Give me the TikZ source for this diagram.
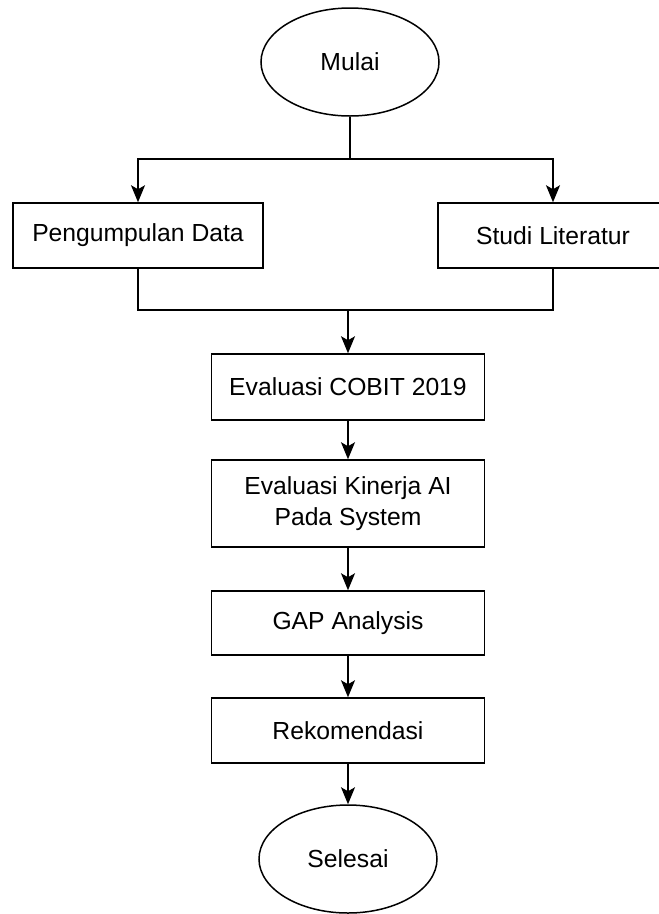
\documentclass[tikz,border=0pt]{standalone}
\usepackage{fontspec}
\setmainfont{Liberation Sans}
\usetikzlibrary{arrows.meta,shapes.geometric}
\begin{document}
\begin{tikzpicture}[x=1pt,y=-1pt,line width=1.5pt,
  txt/.style={font=\fontsize{24.7}{31.5}\selectfont},
  box/.style={draw,rectangle,inner sep=0pt,align=center,txt},
  term/.style={draw,ellipse,inner sep=0pt,minimum width=178pt,minimum height=108pt,txt},
  arr/.style={-{Stealth[length=17pt,width=14pt,inset=4pt]}}]
\useasboundingbox (0,0) rectangle (659,914);
\clip (0,0) rectangle (659,914);
\fill[white] (0,0) rectangle (659,914);
\node[term] (mulai) at (350,62) {Mulai};
\node[box,minimum width=250pt,minimum height=65pt] (peng) at (138,235.5) {Pengumpulan Data};
\node[box,minimum width=230pt,minimum height=65pt] (studi) at (553,235.5) {Studi Literatur};
\node[box,minimum width=273pt,minimum height=66pt] (cobit) at (348,387) {Evaluasi COBIT 2019};
\node[box,minimum width=273pt,minimum height=87pt] (kin) at (348,503.5) {Evaluasi Kinerja AI\\Pada System};
\node[box,minimum width=273pt,minimum height=64pt] (gap) at (348,623) {GAP Analysis};
\node[box,minimum width=273pt,minimum height=65pt] (rek) at (348,730.5) {Rekomendasi};
\node[term] (sel) at (348,859) {Selesai};
\coordinate (s) at (350,159);
\coordinate (m) at (348,310);
\draw (mulai.south) -- (s);
\draw[arr] (s) -| (peng.north);
\draw[arr] (s) -| (studi.north);
\draw (peng.south) |- (m);
\draw (studi.south) |- (m);
\draw[arr] (m) -- (cobit.north);
\draw[arr] (cobit.south) -- (kin.north);
\draw[arr] (kin.south) -- (gap.north);
\draw[arr] (gap.south) -- (rek.north);
\draw[arr] (rek.south) -- (sel.north);
\end{tikzpicture}
\end{document}
